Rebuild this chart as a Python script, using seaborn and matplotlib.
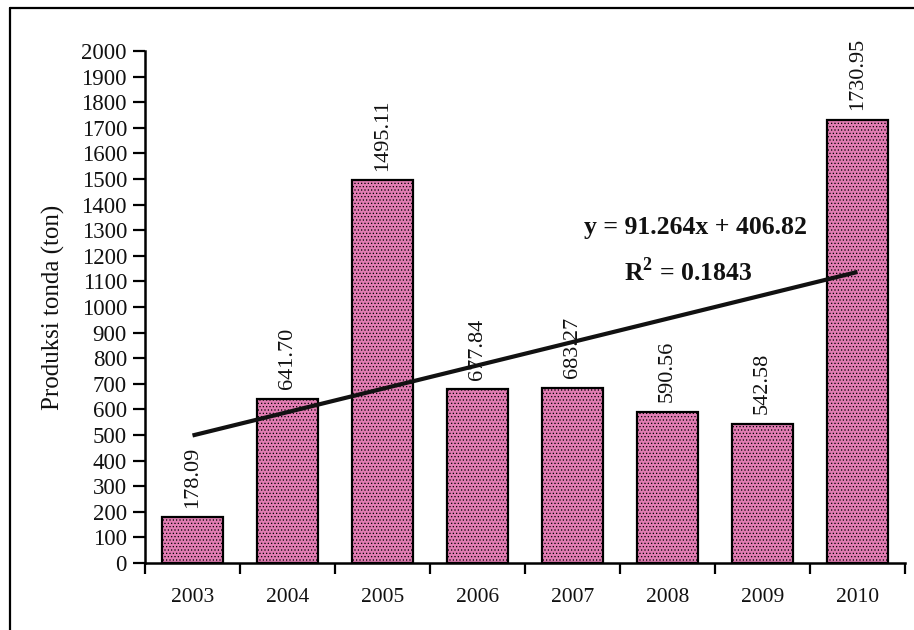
import matplotlib
matplotlib.use("Agg")
import matplotlib.pyplot as plt
from matplotlib.lines import Line2D
import seaborn as sns
import pandas as pd

# Annual tonda (tuna troll) production
years = ["2003", "2004", "2005", "2006", "2007", "2008", "2009", "2010"]
production = [178.09, 641.70, 1495.11, 677.84, 683.27, 590.56, 542.58, 1730.95]
value_labels = ["178.09", "641.70", "1495.11", "677.84", "683.27", "590.56", "542.58", "1730.95"]

# Linear trend fitted over period index x = 1..8
slope = 91.264
intercept = 406.82
r_squared = 0.1843

sns.set_theme(style="white")
plt.rcParams["font.family"] = ["Liberation Serif", "DejaVu Serif"]
plt.rcParams["hatch.linewidth"] = 0.5
plt.rcParams["mathtext.fontset"] = "custom"
plt.rcParams["mathtext.rm"] = "Liberation Serif:bold"
plt.rcParams["mathtext.bf"] = "Liberation Serif:bold"

df = pd.DataFrame({"Tahun": years, "Produksi": production})

fig = plt.figure(figsize=(9.14, 6.30), dpi=100)
ax = fig.add_axes([145 / 914, 1 - 563 / 630, 760 / 914, 512 / 630])

sns.barplot(data=df, x="Tahun", y="Produksi", color="#e27db3", width=0.64,
            edgecolor="black", linewidth=1.6, saturation=1, ax=ax, zorder=2)
for p in ax.patches:
    p.set_hatch(".....")
    if hasattr(p, "set_hatchcolor"):
        p.set_hatchcolor("#5a2442")

# value labels above each bar
for i, (v, txt) in enumerate(zip(production, value_labels)):
    ax.annotate(txt, xy=(i, v), xytext=(0, 7), textcoords="offset points",
                rotation=90, ha="center", va="bottom", fontsize=16,
                color="#111111", zorder=3)

# trend line across the categories
xs = list(range(len(years)))
trend = [slope * (i + 1) + intercept for i in xs]
ax.plot(xs, trend, color="#111111", linewidth=3, zorder=4,
        solid_capstyle="butt")

ax.text(0.725, 0.655, f"y = {slope:.3f}x + {intercept:.2f}", transform=ax.transAxes,
        ha="center", va="center", fontsize=18.5, fontweight="bold", color="#111111")
ax.text(0.715, 0.57, f"R$^2$ = {r_squared:.4f}", transform=ax.transAxes,
        ha="center", va="center", fontsize=18.5, fontweight="bold", color="#111111")

# axes
ax.set_xlim(-0.5, len(years) - 0.5)
ax.set_ylim(0, 2000)
ax.set_yticks(range(0, 2001, 100))
ax.set_xticks(xs)
ax.set_xticks([i - 0.5 for i in range(len(years) + 1)], minor=True)
ax.tick_params(axis="x", which="major", length=0, pad=18, labelsize=15.5)
ax.tick_params(axis="x", which="minor", length=8, width=1.6, direction="out",
               bottom=True, color="black")
ax.tick_params(axis="y", which="major", length=9, width=1.6, direction="out",
               left=True, pad=4, labelsize=16.5, color="black")
for lab in ax.get_xticklabels() + ax.get_yticklabels():
    lab.set_color("#111111")

sns.despine(ax=ax)
for s in ("left", "bottom"):
    ax.spines[s].set_color("black")
    ax.spines[s].set_linewidth(1.8)

ax.set_xlabel("")
ax.set_ylabel("Produksi tonda (ton)", fontsize=18, color="#111111", va="center")
ax.yaxis.set_label_coords(-0.12, 0.5)

# outer frame (left and top edges)
fig.add_artist(Line2D([10 / 914, 10 / 914], [0, 1 - 8 / 630], transform=fig.transFigure,
                      color="black", linewidth=1.6))
fig.add_artist(Line2D([10 / 914, 1], [1 - 8 / 630, 1 - 8 / 630], transform=fig.transFigure,
                      color="black", linewidth=1.6))

fig.savefig("out.png", dpi=100, facecolor="white")
